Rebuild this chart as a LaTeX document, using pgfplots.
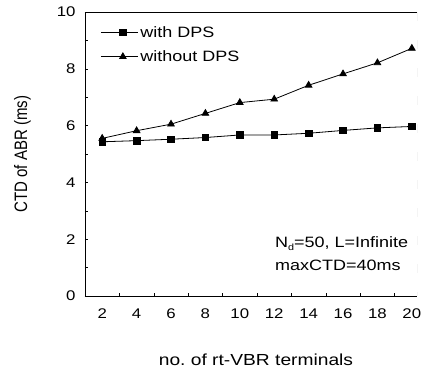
\documentclass[border=0pt]{standalone}
\usepackage{pgfplots}
\pgfplotsset{compat=1.18}
\usepackage{fontspec}
\setmainfont{Liberation Sans}[FakeStretch=1.2]
\newfontfamily\ylfont{Liberation Sans}
\begin{document}
\begin{tikzpicture}
\begin{axis}[
  name=ax,
  scale only axis,
  width=332pt, height=284pt,
  xmin=1, xmax=20.3, ymin=0, ymax=10,
  xtick={2,4,...,20},
  ytick={0,2,...,10},
  minor xtick={3,5,...,19},
  minor ytick={1,3,...,9},
  major x tick style={draw=none},
  tick align=inside,
  major tick length=3pt, minor tick length=3pt,
  axis line style={line width=0.9pt},
  separate axis lines,
  axis x line*=bottom, axis y line*=left,
  tick style={black, line width=0.5pt},
  /pgf/number format/assume math mode=true,
  ticklabel style={font=\fontsize{14}{16}\selectfont},
  xticklabel style={yshift=-9pt},
  yticklabel style={xshift=-6pt},
  xlabel={no.\ of rt-VBR terminals},
  ylabel={CTD of ABR (ms)},
  xlabel style={font=\fontsize{16}{18}\selectfont, at={(0.515,0)}, anchor=north, yshift=-54pt},
  ylabel style={font=\ylfont\fontsize{15}{17}\selectfont, at={(0,0.5)}, anchor=south, yshift=50pt, yscale=1.2},
  legend style={draw=none, fill=none, at={(0.04,0.965)}, anchor=north west,
    font=\fontsize{15}{17}\selectfont, row sep=8pt, inner sep=2pt},
  legend cell align=left,
  legend image code/.code={
    \draw[#1, line width=0.8pt] (0cm,0cm) -- (37pt,0cm);
    \draw[#1, only marks] plot coordinates {(22pt,0cm)};
  },
]
\addplot[black, line width=0.8pt, mark=square*, mark size=3.3pt] coordinates {
(2,5.43) (4,5.47) (6,5.52) (8,5.58) (10,5.67) (12,5.67) (14,5.73) (16,5.83) (18,5.92) (20,5.97)};
\addlegendentry{with DPS}
\addplot[black, line width=0.8pt, mark=triangle*, mark size=3.8pt] coordinates {
(2,5.55) (4,5.82) (6,6.05) (8,6.43) (10,6.81) (12,6.93) (14,7.42) (16,7.82) (18,8.21) (20,8.72)};
\addlegendentry{without DPS}
\node[anchor=west, align=left, font=\fontsize{15}{23}\selectfont] at (axis cs:11.85,1.5)
  {N\raisebox{-0.35ex}{\fontsize{9}{9}\selectfont d}=50, L=Infinite\\maxCTD=40ms};
\draw[black, line width=0.9pt] (axis cs:1,10) -- (axis cs:20.3,10);
\draw[gray!70, line width=0.9pt, dash pattern=on 9pt off 19pt] (axis cs:20.3,10) -- (axis cs:20.3,0);
\end{axis}
\path (ax.south west) ++(-85pt,-79pt);
\path (ax.north east) ++(9pt,12pt);
\end{tikzpicture}
\end{document}
